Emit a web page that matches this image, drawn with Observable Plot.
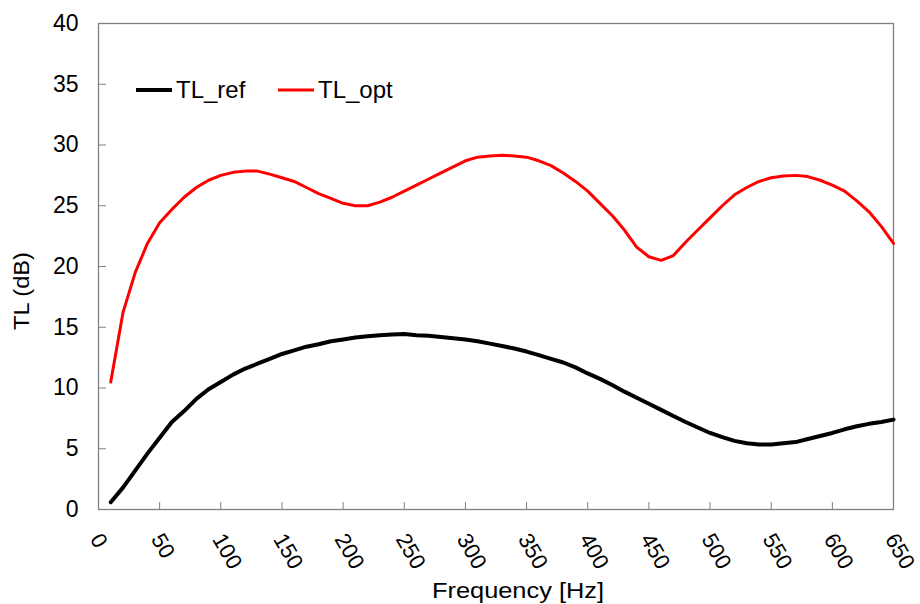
<!DOCTYPE html>
<html>
<head>
<meta charset="utf-8">
<script src="https://cdn.jsdelivr.net/npm/d3@7"></script>
<script src="https://cdn.jsdelivr.net/npm/@observablehq/plot@0.6"></script>
<style>
  html, body { margin: 0; padding: 0; background: #fff; }
  #chart { position: relative; width: 920px; height: 604px; }
</style>
</head>
<body>
<div id="chart"></div>
<script>
const freq = [10,20,30,40,50,60,70,80,90,100,110,120,130,140,150,160,170,180,190,200,210,220,230,240,250,260,270,280,290,300,310,320,330,340,350,360,370,380,390,400,410,420,430,440,450,460,470,480,490,500,510,520,530,540,550,560,570,580,590,600,610,620,630,640,650];

const tlRef = [0.6,1.8,3.2,4.6,5.9,7.2,8.1,9.1,9.9,10.5,11.1,11.6,12.0,12.4,12.8,13.1,13.4,13.6,13.85,14.0,14.15,14.25,14.35,14.4,14.45,14.35,14.3,14.2,14.1,14.0,13.85,13.65,13.45,13.25,13.0,12.7,12.4,12.1,11.7,11.2,10.75,10.25,9.7,9.2,8.7,8.2,7.7,7.2,6.75,6.3,5.95,5.65,5.45,5.35,5.35,5.45,5.55,5.8,6.05,6.3,6.6,6.85,7.05,7.2,7.4];

const tlOpt = [10.5,16.2,19.5,21.9,23.6,24.7,25.7,26.5,27.1,27.5,27.75,27.85,27.85,27.6,27.3,27.0,26.5,26.0,25.6,25.2,25.0,25.0,25.3,25.7,26.2,26.7,27.2,27.7,28.2,28.7,29.0,29.1,29.15,29.1,29.0,28.7,28.3,27.7,27.0,26.2,25.2,24.2,23.0,21.6,20.8,20.5,20.9,22.0,23.0,24.0,25.0,25.9,26.5,27.0,27.3,27.45,27.5,27.4,27.1,26.7,26.2,25.4,24.5,23.3,21.9];

const seriesNames = ["TL_ref", "TL_opt"];
const seriesColors = ["#000000", "#ff0000"];
const seriesWidths = [4, 3];
const xTicks = [0,50,100,150,200,250,300,350,400,450,500,550,600,650];
const yTicks = [0,5,10,15,20,25,30,35,40];
const xLabel = "Frequency [Hz]";
const yLabel = "TL (dB)";

const refData = freq.map((f, i) => ({f, v: tlRef[i]}));
const optData = freq.map((f, i) => ({f, v: tlOpt[i]}));

const font = "'Liberation Sans', Arial, sans-serif";

const plot = Plot.plot({
  width: 920,
  height: 604,
  marginLeft: 98,
  marginRight: 27,
  marginTop: 23,
  marginBottom: 95,
  style: {fontFamily: font, fontSize: "23px", color: "#000", background: "#fff", overflow: "visible"},
  x: {domain: [0, 650]},
  y: {domain: [0, 40]},
  marks: [
    Plot.axisY(yTicks, {tickSize: 8, insetLeft: 8, tickPadding: 20, fontSize: 23, label: null, stroke: "#808080", fill: "#000"}),
    Plot.axisX(xTicks, {tickSize: 7, insetBottom: 7, tickFormat: () => "", label: null, stroke: "#808080"}),
    Plot.axisX(xTicks, {tickSize: 0, tickPadding: 26, tickRotate: 60, textAnchor: "start", lineAnchor: "middle", fontSize: 22, dx: -3, label: null, fill: "#000"}),
    Plot.frame({stroke: "#808080", strokeWidth: 1.3}),
    Plot.line(refData, {x: "f", y: "v", stroke: seriesColors[0], strokeWidth: seriesWidths[0], curve: "linear"}),
    Plot.line(optData, {x: "f", y: "v", stroke: seriesColors[1], strokeWidth: seriesWidths[1], curve: "linear"})
  ]
});

document.getElementById("chart").appendChild(plot);

const svg = d3.select(plot);

// Axis titles
svg.append("text")
  .attr("x", 518).attr("y", 598)
  .attr("text-anchor", "middle")
  .attr("font-family", font).attr("font-size", 22)
  .attr("textLength", 172).attr("lengthAdjust", "spacingAndGlyphs")
  .attr("fill", "#000")
  .text(xLabel);

svg.append("text")
  .attr("transform", "translate(29,291) rotate(-90)")
  .attr("text-anchor", "middle")
  .attr("font-family", font).attr("font-size", 22)
  .attr("textLength", 78).attr("lengthAdjust", "spacingAndGlyphs")
  .attr("fill", "#000")
  .text(yLabel);

// Legend (inside plot area, top-left)
const legend = svg.append("g").attr("font-family", font).attr("font-size", 24).attr("text-anchor", "start");
const legendX = [136, 278];
seriesNames.forEach((name, i) => {
  const g = legend.append("g").attr("transform", `translate(${legendX[i]},90)`);
  g.append("line").attr("x1", 0).attr("x2", 36).attr("y1", 0).attr("y2", 0)
    .attr("stroke", seriesColors[i]).attr("stroke-width", seriesWidths[i]);
  g.append("text").attr("x", 40).attr("y", 8).attr("fill", "#000").attr("text-anchor", "start").text(name);
});
</script>
</body>
</html>
